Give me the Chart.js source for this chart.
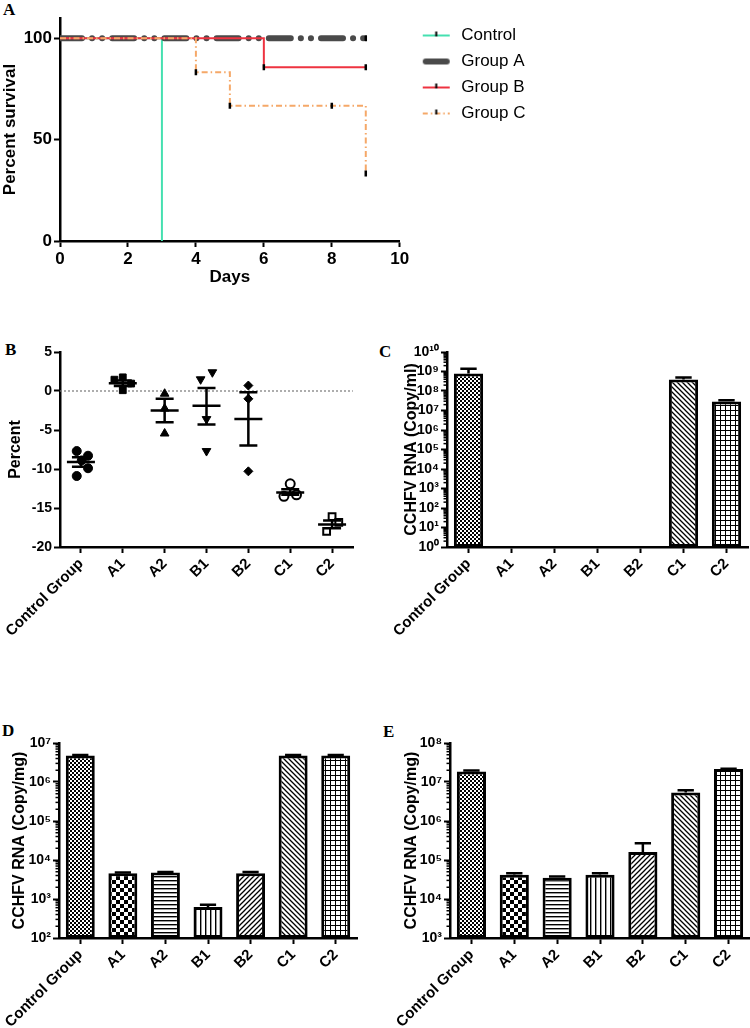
<!DOCTYPE html>
<html><head><meta charset="utf-8">
<script src="https://cdn.jsdelivr.net/npm/chart.js@4.4.1/dist/chart.umd.min.js"></script>
<style>
html,body{margin:0;padding:0;background:#fff;}
body{width:750px;height:1028px;position:relative;overflow:hidden;}
.panel{position:absolute;}
.panel canvas{display:block;}
.letter{position:absolute;font-family:"Liberation Serif","Times New Roman",serif;font-weight:bold;font-size:17px;line-height:17px;color:#000;}
</style></head><body>
<div class="letter" style="left:3px;top:1px">A</div>
<div class="letter" style="left:5px;top:341px">B</div>
<div class="letter" style="left:379px;top:343px">C</div>
<div class="letter" style="left:2px;top:722px">D</div>
<div class="letter" style="left:383px;top:723px">E</div>

<div class="panel" style="left:0;top:0"><canvas id="cA" width="533" height="290"></canvas></div>
<div class="panel" style="left:0;top:330px"><canvas id="cB" width="370" height="330"></canvas></div>
<div class="panel" style="left:370px;top:330px"><canvas id="cC" width="380" height="330"></canvas></div>
<div class="panel" style="left:0;top:720px"><canvas id="cD" width="370" height="308"></canvas></div>
<div class="panel" style="left:370px;top:720px"><canvas id="cE" width="380" height="308"></canvas></div>

<script>
// ---------------- DATA ----------------
// Panel A: survival (Kaplan-Meier steps)
const survSeries = ['Control', 'Group A', 'Group B', 'Group C'];
const survDaysControl = [0, 3];
const survControl = [100, 0];
const survDaysA = [0, 9];
const survA = [100, 100];
const survDaysB = [0, 6, 9];
const survB = [100, 85.7, 85.7];
const survDaysC = [0, 4, 5, 9];
const survC = [100, 83.3, 66.7, 33.3];
const censorDaysA = [9];
const censorA = [100];
const censorDaysB = [6, 9];
const censorB = [85.7, 85.7];
const censorDaysC = [4, 5, 8, 9];
const censorC = [83.3, 66.7, 66.7, 33.3];
const daysTicks = [0, 2, 4, 6, 8, 10];
const survTicks = [0, 50, 100];

// Shared categories for B-E
const groups = ['Control Group', 'A1', 'A2', 'B1', 'B2', 'C1', 'C2'];

// Panel B: percent (individual animals + mean/SEM)
const bControl = [-7.7, -8.3, -8.9, -9.9, -10.9];
const bControlJit = [-0.1, 0.17, 0.02, 0.17, -0.1];
const bA1 = [1.45, 1.75, 0.1, 0.95];
const bA1Jit = [-0.2, 0.0, 0.0, 0.2];
const bA2 = [-0.35, -2.25, -5.45];
const bA2Jit = [0, 0, 0];
const bB1 = [1.5, 2.4, -3.6, -7.7];
const bB1Jit = [-0.14, 0.14, 0, 0];
const bB2 = [0.7, -1.0, -10.3];
const bB2Jit = [0, 0, 0];
const bC1 = [-11.9, -13.5, -13.3];
const bC1Jit = [0, -0.15, 0.15];
const bC2 = [-16.1, -16.85, -18.0];
const bC2Jit = [0, 0.16, -0.13];
const bMean = [-9.1, 1.0, -2.5, -1.9, -3.6, -13.0, -17.1];
const bSemHi = [-8.5, 1.35, -1.0, 0.4, -0.15, -12.6, -16.6];
const bSemLo = [-9.7, 0.65, -4.0, -4.3, -7.0, -13.3, -17.6];
const bTicks = [5, 0, -5, -10, -15, -20];

// Panel C: CCHFV RNA (Copy/ml)
const cVals = [7.8e8, null, null, null, null, 3.9e8, 2.9e7];
const cErrHi = [1.4e9, null, null, null, null, 4.9e8, 3.4e7];
const cDecades = [1e0, 1e1, 1e2, 1e3, 1e4, 1e5, 1e6, 1e7, 1e8, 1e9, 1e10];

// Panel D: CCHFV RNA (Copy/mg)
const dVals = [4.8e6, 4.6e3, 4.8e3, 624, 4.6e3, 4.8e6, 4.8e6];
const dErrHi = [4.9e6, 4.8e3, 4.9e3, 716, 4.9e3, 4.9e6, 4.9e6];
const dDecades = [1e2, 1e3, 1e4, 1e5, 1e6, 1e7];

// Panel E: CCHFV RNA (Copy/mg)
const eVals = [1.87e7, 4.2e4, 3.5e4, 4.2e4, 1.6e5, 5.4e6, 2.15e7];
const eErrHi = [1.97e7, 4.6e4, 3.75e4, 4.6e4, 2.7e5, 6.1e6, 2.2e7];
const eDecades = [1e3, 1e4, 1e5, 1e6, 1e7, 1e8];

// ---------------- HELPERS ----------------
Chart.defaults.font.family = '"Liberation Sans", Arial, Helvetica, sans-serif';
Chart.defaults.color = '#000';
Chart.defaults.animation = false;

const zipXY = (xs, ys) => xs.map((x, i) => ({x, y: ys[i]}));
const SUP = ['\u2070','\u00B9','\u00B2','\u00B3','\u2074','\u2075','\u2076','\u2077','\u2078','\u2079'];
const isPow10 = v => { const l = Math.log10(v); return Math.abs(l - Math.round(l)) < 1e-9; };
const pow10Label = v => '10' + String(Math.round(Math.log10(v))).split('').map(d => SUP[+d]).join('');

function axisBase(fontSize) {
  return {
    border: {display: true, color: '#000', width: 2.5},
    grid: {display: true, drawOnChartArea: false, drawTicks: true, tickLength: 6, tickColor: '#000', tickWidth: 2},
    ticks: {color: '#000', font: {weight: 'bold', size: fontSize}, padding: 2, autoSkip: false}
  };
}

function logTicks(decades) {
  return scale => {
    const t = [];
    decades.forEach((d, i) => {
      t.push({value: d, major: true});
      if (i < decades.length - 1) for (let k = 2; k <= 9; k++) t.push({value: d * k, major: false});
    });
    scale.ticks = t;
  };
}

const minorTickPlugin = {
  id: 'minorTicks',
  afterDraw(chart) {
    const s = chart.scales.y;
    if (!s || s.type !== 'logarithmic') return;
    const ctx = chart.ctx;
    ctx.save();
    ctx.strokeStyle = '#000';
    ctx.lineWidth = 1.5;
    s.ticks.forEach(t => {
      if (isPow10(t.value)) return;
      const y = s.getPixelForValue(t.value);
      ctx.beginPath();
      ctx.moveTo(s.right - 3.5, y);
      ctx.lineTo(s.right, y);
      ctx.stroke();
    });
    ctx.restore();
  }
};

function makeErrPlugin(err) {
  return {
    id: 'barErr',
    afterDatasetsDraw(chart) {
      const meta = chart.getDatasetMeta(0);
      const ys = chart.scales.y;
      const ctx = chart.ctx;
      ctx.save();
      ctx.strokeStyle = '#000';
      ctx.lineWidth = 2.5;
      meta.data.forEach((bar, i) => {
        if (err[i] == null || chart.data.datasets[0].data[i] == null) return;
        const yTop = bar.y;
        const yErr = ys.getPixelForValue(err[i]);
        const half = bar.width * 0.28;
        ctx.beginPath();
        ctx.moveTo(bar.x, yTop);
        ctx.lineTo(bar.x, yErr);
        ctx.moveTo(bar.x - half, yErr);
        ctx.lineTo(bar.x + half, yErr);
        ctx.stroke();
      });
      ctx.restore();
    }
  };
}

const patCanvas = document.createElement('canvas').getContext('2d');
function makePattern(kind) {
  const c = document.createElement('canvas');
  const g = c.getContext('2d');
  let s = 4;
  if (kind === 'check8') s = 8;
  if (kind === 'diagF' || kind === 'diagB') s = 5;
  if (kind === 'grid') s = 5;
  if (kind === 'vert') s = 5;
  c.width = c.height = s;
  g.fillStyle = '#fff';
  g.fillRect(0, 0, s, s);
  g.fillStyle = '#000';
  g.strokeStyle = '#000';
  if (kind === 'fine') {
    g.fillRect(0, 0, 2, 2); g.fillRect(2, 2, 2, 2);
  } else if (kind === 'check8') {
    g.fillRect(0, 0, 4, 4); g.fillRect(4, 4, 4, 4);
  } else if (kind === 'horiz') {
    g.fillRect(0, 0, s, 1.4);
  } else if (kind === 'vert') {
    g.fillRect(0, 0, 1.4, s);
  } else if (kind === 'diagF') {
    g.lineWidth = 1.3;
    g.beginPath();
    g.moveTo(-1, s + 1); g.lineTo(s + 1, -1);
    g.moveTo(-1, 1); g.lineTo(1, -1);
    g.moveTo(s - 1, s + 1); g.lineTo(s + 1, s - 1);
    g.stroke();
  } else if (kind === 'diagB') {
    g.lineWidth = 1.3;
    g.beginPath();
    g.moveTo(-1, -1); g.lineTo(s + 1, s + 1);
    g.moveTo(s - 1, -1); g.lineTo(s + 1, 1);
    g.moveTo(-1, s - 1); g.lineTo(1, s + 1);
    g.stroke();
  } else if (kind === 'grid') {
    g.fillRect(0, 0, s, 1);
    g.fillRect(0, 0, 1, s);
  }
  return patCanvas.createPattern(c, 'repeat');
}
const barPatterns = ['fine', 'check8', 'horiz', 'vert', 'diagF', 'diagB', 'grid'].map(makePattern);

// ---------------- PANEL A ----------------
function legendIcon(color, width, dash, tick) {
  const c = document.createElement('canvas');
  c.width = 44; c.height = 12;
  const g = c.getContext('2d');
  g.strokeStyle = color;
  g.lineWidth = width;
  g.lineCap = width > 3 ? 'round' : 'butt';
  if (dash) g.setLineDash(dash);
  g.beginPath();
  g.moveTo(width > 3 ? 17 : 14, 6);
  g.lineTo(width > 3 ? 38 : 41, 6);
  g.stroke();
  if (tick) {
    g.setLineDash([]);
    g.fillStyle = '#000';
    g.fillRect(26.5, 2, 2, 5);
  }
  return c;
}
const legendIcons = [
  legendIcon('#45e0b0', 2, null, true),
  legendIcon('#4a4a4a', 6, null, false),
  legendIcon('#ee3340', 2, null, true),
  legendIcon('#f5a868', 2, [5, 3, 1.5, 3], true)
];

const censorStyle = {
  showLine: false, pointStyle: 'line', pointRotation: 90, pointRadius: 3,
  pointBorderWidth: 2.5, pointBorderColor: '#000', pointBackgroundColor: '#000', order: -1
};

new Chart(document.getElementById('cA'), {
  type: 'line',
  data: {
    datasets: [
      {label: survSeries[0], data: zipXY(survDaysControl, survControl), borderColor: '#45e0b0', borderWidth: 2, stepped: 'before', pointRadius: 0, order: 3},
      {label: survSeries[1], data: zipXY(survDaysA, survA), borderColor: '#4a4a4a', borderWidth: 6, borderDash: [22, 10, 0.1, 10, 0.1, 10], borderCapStyle: 'round', stepped: 'before', pointRadius: 0, order: 2},
      {label: survSeries[2], data: zipXY(survDaysB, survB), borderColor: '#ee3340', borderWidth: 2, stepped: 'before', pointRadius: 0, order: 1},
      {label: survSeries[3], data: zipXY(survDaysC, survC), borderColor: '#f5a868', borderWidth: 2, borderDash: [6, 3, 1.5, 3], stepped: 'before', pointRadius: 0, order: 0},
      Object.assign({label: 'cA', data: zipXY(censorDaysA, censorA)}, censorStyle),
      Object.assign({label: 'cB', data: zipXY(censorDaysB, censorB)}, censorStyle),
      Object.assign({label: 'cC', data: zipXY(censorDaysC, censorC)}, censorStyle)
    ]
  },
  options: {
    responsive: false,
    events: [],
    layout: {padding: {top: 18, left: 0, right: 0, bottom: 0}},
    plugins: {
      tooltip: {enabled: false},
      legend: {
        position: 'right', align: 'start', fullSize: false,
        labels: {
          usePointStyle: true, pointStyleWidth: 44, padding: 9, color: '#000',
          font: {size: 17},
          generateLabels: () => survSeries.map((name, i) => ({
            text: name, pointStyle: legendIcons[i], fillStyle: 'rgba(0,0,0,0)',
            strokeStyle: 'rgba(0,0,0,0)', lineWidth: 0, hidden: false, datasetIndex: i, fontColor: '#000'
          }))
        }
      }
    },
    scales: {
      x: Object.assign(axisBase(17), {
        type: 'linear', min: 0, max: 10,
        afterBuildTicks: s => { s.ticks = daysTicks.map(v => ({value: v})); },
        title: {display: true, text: 'Days', color: '#000', font: {size: 17, weight: 'bold'}, padding: {top: 0, bottom: 2}},
        afterFit: s => { s.height = 49; }
      }),
      y: Object.assign(axisBase(17), {
        type: 'linear', min: 0, max: 110,
        afterBuildTicks: s => { s.ticks = survTicks.map(v => ({value: v})); },
        title: {display: true, text: 'Percent survival', color: '#000', font: {size: 17, weight: 'bold'}, padding: {top: 0, bottom: 0}},
        afterFit: s => { s.width = 60; }
      })
    }
  }
});

// ---------------- PANEL B ----------------
const bVals = [bControl, bA1, bA2, bB1, bB2, bC1, bC2];
const bJits = [bControlJit, bA1Jit, bA2Jit, bB1Jit, bB2Jit, bC1Jit, bC2Jit];
const bMarkers = [
  {pointStyle: 'circle', pointRadius: 4.5, pointBackgroundColor: '#000', pointBorderColor: '#000', pointBorderWidth: 1},
  {pointStyle: 'rect', pointRadius: 4.8, pointBackgroundColor: '#000', pointBorderColor: '#000', pointBorderWidth: 1},
  {pointStyle: 'triangle', pointRadius: 5, pointBackgroundColor: '#000', pointBorderColor: '#000', pointBorderWidth: 1},
  {pointStyle: 'triangle', pointRotation: 180, pointRadius: 5, pointBackgroundColor: '#000', pointBorderColor: '#000', pointBorderWidth: 1},
  {pointStyle: 'rectRot', pointRadius: 4.5, pointBackgroundColor: '#000', pointBorderColor: '#000', pointBorderWidth: 1},
  {pointStyle: 'circle', pointRadius: 4.5, pointBackgroundColor: '#fff', pointBorderColor: '#000', pointBorderWidth: 2},
  {pointStyle: 'rect', pointRadius: 4.8, pointBackgroundColor: '#fff', pointBorderColor: '#000', pointBorderWidth: 2}
];

const bStatsPlugin = {
  id: 'bStats',
  beforeDatasetsDraw(chart) {
    const {ctx, chartArea, scales: {y}} = chart;
    const y0 = y.getPixelForValue(0);
    ctx.save();
    ctx.strokeStyle = '#777';
    ctx.lineWidth = 1.2;
    ctx.setLineDash([2, 2]);
    ctx.beginPath();
    ctx.moveTo(chartArea.left, y0);
    ctx.lineTo(chartArea.right, y0);
    ctx.stroke();
    ctx.restore();
  },
  afterDatasetsDraw(chart) {
    const {ctx, scales: {x, y}} = chart;
    ctx.save();
    ctx.strokeStyle = '#000';
    ctx.lineWidth = 2.5;
    groups.forEach((g, i) => {
      const px = x.getPixelForValue(i);
      const pm = y.getPixelForValue(bMean[i]);
      const ph = y.getPixelForValue(bSemHi[i]);
      const pl = y.getPixelForValue(bSemLo[i]);
      ctx.beginPath();
      ctx.moveTo(px - 14, pm); ctx.lineTo(px + 14, pm);
      ctx.moveTo(px, ph); ctx.lineTo(px, pl);
      ctx.moveTo(px - 9, ph); ctx.lineTo(px + 9, ph);
      ctx.moveTo(px - 9, pl); ctx.lineTo(px + 9, pl);
      ctx.stroke();
    });
    ctx.restore();
  }
};

new Chart(document.getElementById('cB'), {
  type: 'scatter',
  data: {
    datasets: bVals.map((vals, gi) => Object.assign({
      label: groups[gi],
      data: vals.map((v, k) => ({x: gi + bJits[gi][k], y: v}))
    }, bMarkers[gi]))
  },
  options: {
    responsive: false,
    events: [],
    layout: {padding: {top: 22, left: 0, right: 17, bottom: 0}},
    plugins: {legend: {display: false}, tooltip: {enabled: false}},
    scales: {
      x: Object.assign(axisBase(15), {
        type: 'linear', min: -0.5, max: 6.5,
        afterBuildTicks: s => { s.ticks = groups.map((g, i) => ({value: i})); },
        ticks: {color: '#000', font: {weight: 'bold', size: 15}, padding: 2, autoSkip: false, minRotation: 45, maxRotation: 45,
          callback: v => groups[v]},
        afterFit: s => { s.height = 113; }
      }),
      y: Object.assign(axisBase(14), {
        type: 'linear', min: -20, max: 5,
        afterBuildTicks: s => { s.ticks = bTicks.map(v => ({value: v})); },
        title: {display: true, text: 'Percent', color: '#000', font: {size: 16, weight: 'bold'}, padding: {top: 6, bottom: 0}},
        afterFit: s => { s.width = 60; }
      })
    }
  },
  plugins: [bStatsPlugin]
});

// ---------------- PANELS C, D, E ----------------
function barChart(id, vals, errs, decades, unit, yWidth, xHeight, titlePad, pad) {
  new Chart(document.getElementById(id), {
    type: 'bar',
    data: {
      labels: groups,
      datasets: [{
        data: vals,
        backgroundColor: barPatterns,
        borderColor: '#000',
        borderWidth: 3,
        borderSkipped: false,
        barPercentage: 0.68,
        categoryPercentage: 1
      }]
    },
    options: {
      responsive: false,
      events: [],
      layout: {padding: pad},
      plugins: {legend: {display: false}, tooltip: {enabled: false}},
      scales: {
        x: Object.assign(axisBase(15), {
          type: 'category',
          grid: {display: true, drawOnChartArea: false, drawTicks: true, tickLength: 6, tickColor: '#000', tickWidth: 2, offset: false},
          ticks: {color: '#000', font: {weight: 'bold', size: 15}, padding: 2, autoSkip: false, minRotation: 45, maxRotation: 45},
          afterFit: s => { s.height = xHeight; }
        }),
        y: Object.assign(axisBase(14), {
          type: 'logarithmic',
          min: decades[0], max: decades[decades.length - 1],
          afterBuildTicks: logTicks(decades),
          grid: {display: true, drawOnChartArea: false, drawTicks: true, tickLength: 6,
            tickColor: c => (c.tick && isPow10(c.tick.value)) ? '#000' : 'rgba(0,0,0,0)', tickWidth: 2},
          ticks: {color: '#000', font: {weight: 'bold', size: 14}, padding: 2, autoSkip: false,
            callback: v => isPow10(v) ? pow10Label(v) : ''},
          title: {display: true, text: 'CCHFV RNA (' + unit + ')', color: '#000', font: {size: 16, weight: 'bold'}, padding: {top: titlePad, bottom: 0}},
          afterFit: s => { s.width = yWidth; }
        })
      }
    },
    plugins: [makeErrPlugin(errs), minorTickPlugin]
  });
}

barChart('cC', cVals, cErrHi, cDecades, 'Copy/ml', 77, 113, 32, {top: 22, left: 0, right: 2, bottom: 0});
barChart('cD', dVals, dErrHi, dDecades, 'Copy/mg', 59, 90, 10, {top: 23, left: 0, right: 13, bottom: 0});
barChart('cE', eVals, eErrHi, eDecades, 'Copy/mg', 80, 90, 32, {top: 23, left: 0, right: 0, bottom: 0});
</script>
</body></html>
